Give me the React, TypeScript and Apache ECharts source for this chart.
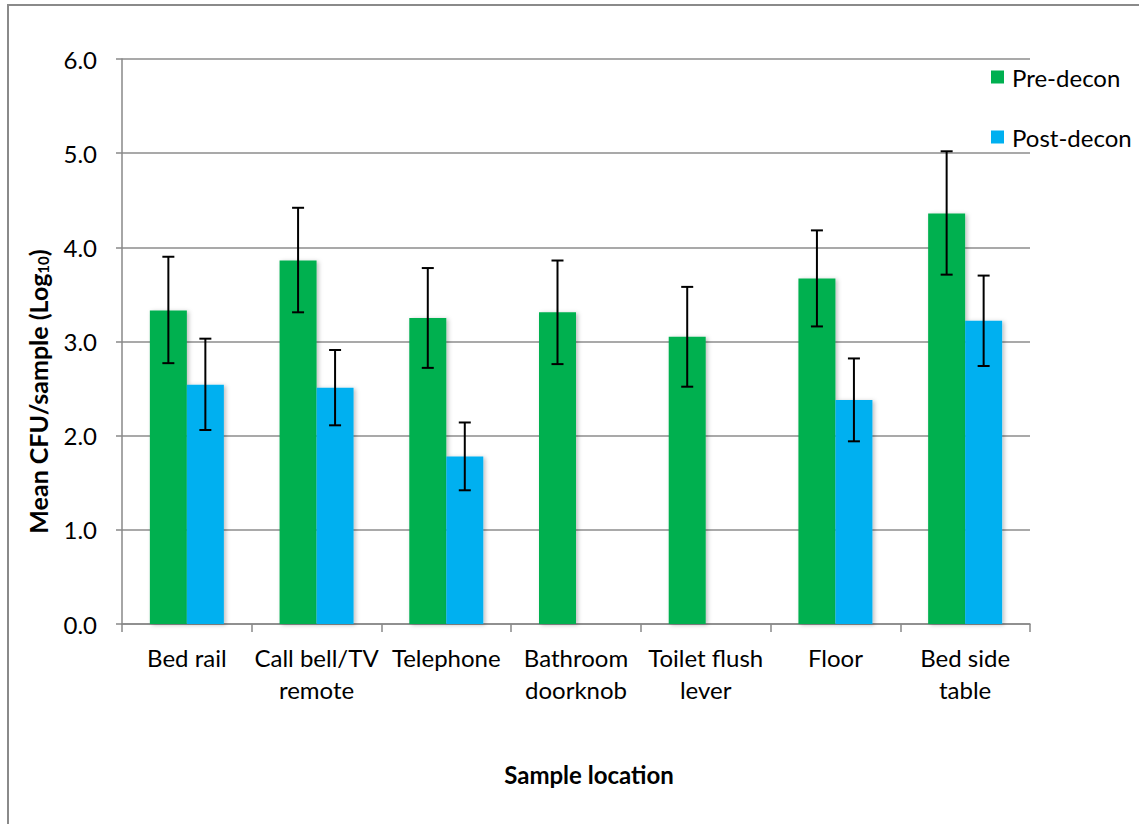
import React, { useEffect, useRef } from "react";
import * as echarts from "echarts";

const categories = [
  "Bed rail",
  "Call bell/TV\nremote",
  "Telephone",
  "Bathroom\ndoorknob",
  "Toilet flush\nlever",
  "Floor",
  "Bed side\ntable",
];
const preDecon = [3.33, 3.86, 3.25, 3.31, 3.05, 3.67, 4.36];
const preLow = [2.77, 3.31, 2.72, 2.76, 2.52, 3.16, 3.71];
const preHigh = [3.9, 4.42, 3.78, 3.86, 3.58, 4.18, 5.02];
const postDecon = [2.54, 2.51, 1.78, 0, 0, 2.38, 3.22];
const postLow = [2.06, 2.11, 1.42, null, null, 1.94, 2.74];
const postHigh = [3.03, 2.91, 2.14, null, null, 2.82, 3.7];

const FONT = "Lato, 'Open Sans', sans-serif";
const FS = 24;
const BAR_W = 37;

export default function App() {
  const ref = useRef<HTMLDivElement>(null);
  useEffect(() => {
    if (!ref.current) return;
    const chart = echarts.init(ref.current, null, { renderer: "svg" });

    const errData: any[] = [];
    preDecon.forEach((_, i) => errData.push([i, preLow[i], preHigh[i], 0]));
    postDecon.forEach((_, i) => {
      if (postLow[i] != null && postHigh[i] != null) errData.push([i, postLow[i], postHigh[i], 1]);
    });

    chart.setOption({
      animation: false,
      textStyle: { fontFamily: FONT },
      graphic: [
        {
          type: "rect",
          shape: { x: 8, y: 5, width: 1150, height: 840 },
          style: { fill: "none", stroke: "#8a8a8a", lineWidth: 2 },
          silent: true,
          z: -10,
        },
      ],
      grid: { left: 122, right: 109, top: 59, bottom: 200, containLabel: false },
      legend: {
        orient: "vertical",
        left: 991,
        top: 65,
        padding: 0,
        itemWidth: 13,
        itemHeight: 13,
        itemGap: 36,
        icon: "rect",
        data: ["Pre-decon", "Post-decon"],
        textStyle: {
          fontSize: FS,
          lineHeight: 24,
          color: "#000",
          fontFamily: FONT,
          padding: [0, 0, 0, 3],
        },
      },
      xAxis: {
        type: "category",
        data: categories,
        axisLine: { lineStyle: { color: "#888", width: 1.5 } },
        axisTick: { show: true, length: 8, lineStyle: { color: "#888", width: 1.5 } },
        axisLabel: {
          fontSize: FS,
          color: "#000",
          margin: 17,
          lineHeight: 32,
          interval: 0,
          fontFamily: FONT,
        },
        name: "Sample location",
        nameLocation: "middle",
        nameGap: 138,
        nameTextStyle: {
          fontSize: FS,
          fontWeight: "bold",
          color: "#000",
          fontFamily: FONT,
          padding: [0, 0, 0, 26],
        },
      },
      yAxis: {
        type: "value",
        min: 0,
        max: 6,
        interval: 1,
        axisLine: { show: true, lineStyle: { color: "#888", width: 1.5 } },
        axisTick: { show: true, length: 6, lineStyle: { color: "#888", width: 1.5 } },
        splitLine: { lineStyle: { color: "#8c8c8c", width: 1.5 } },
        axisLabel: {
          fontSize: FS,
          color: "#000",
          margin: 25,
          formatter: (v: number) => v.toFixed(1),
          fontFamily: FONT,
        },
        name: "{a|Mean CFU/sample (Log}{b|10}{a|)}",
        nameLocation: "middle",
        nameGap: 72,
        nameTextStyle: {
          padding: [0, 100, 0, 0],
          rich: {
            a: { fontSize: 25, fontWeight: "bold", color: "#000", fontFamily: FONT },
            b: {
              fontSize: 15,
              fontWeight: "bold",
              color: "#000",
              fontFamily: FONT,
              verticalAlign: "bottom",
              padding: [9, 0, 0, 0],
            },
          },
        },
      },
      series: [
        {
          name: "Pre-decon",
          type: "bar",
          data: preDecon,
          barWidth: BAR_W,
          barGap: "0%",
          itemStyle: {
            color: "#00B050",
            shadowBlur: 4,
            shadowOffsetX: 2,
            shadowOffsetY: 1,
            shadowColor: "rgba(0,0,0,0.25)",
          },
        },
        {
          name: "Post-decon",
          type: "bar",
          data: postDecon,
          barWidth: BAR_W,
          barGap: "0%",
          itemStyle: {
            color: "#00B0F0",
            shadowBlur: 4,
            shadowOffsetX: 2,
            shadowOffsetY: 1,
            shadowColor: "rgba(0,0,0,0.25)",
          },
        },
        {
          name: "err",
          type: "custom",
          data: errData,
          z: 10,
          silent: true,
          encode: { x: 0, y: [1, 2] },
          renderItem: (params: any, api: any) => {
            const idx = api.value(0);
            const lo = api.coord([idx, api.value(1)]);
            const hi = api.coord([idx, api.value(2)]);
            const s = api.value(3);
            const x = lo[0] + (s === 0 ? -BAR_W / 2 : BAR_W / 2);
            const cap = 6;
            const style = { stroke: "#000", lineWidth: 2 };
            return {
              type: "group",
              children: [
                { type: "line", shape: { x1: x, y1: lo[1], x2: x, y2: hi[1] }, style },
                { type: "line", shape: { x1: x - cap, y1: hi[1], x2: x + cap, y2: hi[1] }, style },
                { type: "line", shape: { x1: x - cap, y1: lo[1], x2: x + cap, y2: lo[1] }, style },
              ],
            };
          },
        },
      ],
    });
    return () => chart.dispose();
  }, []);

  return (
    <div style={{ position: "fixed", left: 0, top: 0, width: 1139, height: 824, background: "#fff" }}>
      <div ref={ref} style={{ width: 1139, height: 824 }} />
    </div>
  );
}
